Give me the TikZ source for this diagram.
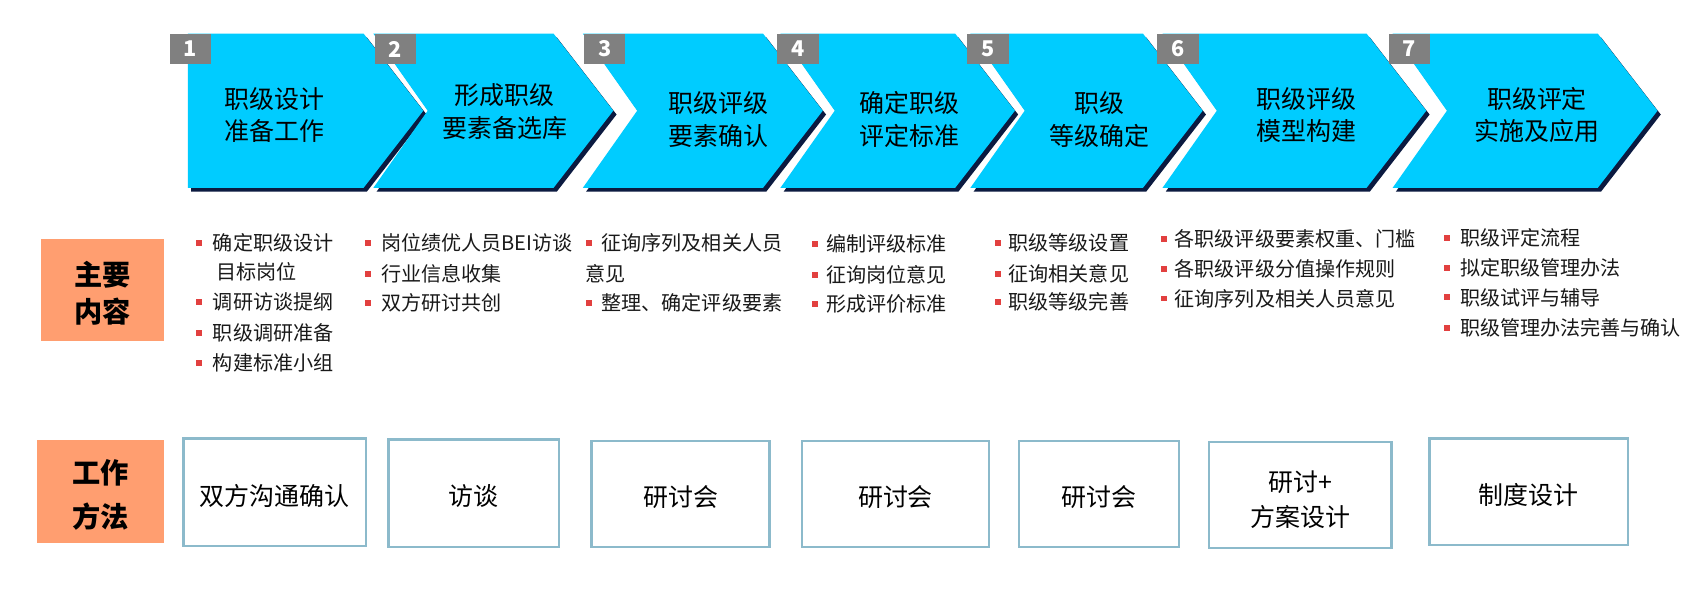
\documentclass[tikz,border=0pt]{standalone}
\usepackage{fontspec}
\setmainfont{Noto Sans CJK SC}
\definecolor{chev}{HTML}{00CCFF}
\definecolor{chevshadow}{HTML}{0B1A40}
\definecolor{numgray}{HTML}{808080}
\definecolor{labelfill}{HTML}{FF9E70}
\definecolor{boxline}{HTML}{8CBACB}
\definecolor{bulletred}{HTML}{E2403F}
\tikzset{
  chevtext/.style={align=center, font=\fontsize{23}{30}\selectfont, text=black, inner sep=0pt},
  numbox/.style={fill=numgray, text=white, font=\fontsize{20}{20}\selectfont\bfseries, minimum width=38pt, minimum height=28pt, inner sep=0pt, anchor=north west},
  rowlabel/.style={fill=labelfill, font=\fontsize{26}{34}\selectfont\bfseries, align=center, inner sep=0pt},
  methodbox/.style={draw=boxline, line width=2.2pt, fill=white},
  methodtext/.style={font=\fontsize{23}{32}\selectfont, align=center, inner sep=0pt},
  itemtext/.style={font=\fontsize{18.5}{20}\selectfont, anchor=west, inner sep=0pt, text=black!90},
  bul/.style={fill=bulletred, minimum size=5.5pt, inner sep=0pt}
}
\begin{document}
\begin{tikzpicture}[x=1pt,y=-1pt]
\useasboundingbox[fill=white] (0,0) rectangle (1568,558);

% ---- chevrons ----
\fill[chevshadow, shift={(3,3.5)}] (173,31) -- (335,31) -- (390,102) -- (335,173) -- (173,173) -- cycle;
\fill[chev] (173,31) -- (335,31) -- (390,102) -- (335,173) -- (173,173) -- cycle;
\foreach \L/\R/\T in {344/510/565, 537/703/758, 719/880/935, 894/1053/1108, 1071/1259/1314, 1283/1472/1527}{
  \fill[chevshadow, shift={(3,3.5)}] (\L,31) -- (\R,31) -- (\T,102) -- (\R,173) -- (\L,173) -- ({\L+50},102) -- cycle;
  \fill[chev] (\L,31) -- (\R,31) -- (\T,102) -- (\R,173) -- (\L,173) -- ({\L+50},102) -- cycle;
}

% ---- number squares ----
\node[numbox] (n1) at (156,31) {1};
\node[numbox] (n2) at (345,31) {2};
\node[numbox] (n3) at (538,31) {3};
\node[numbox] (n4) at (716,31) {4};
\node[numbox] (n5) at (891,31) {5};
\node[numbox] (n6) at (1066,31) {6};
\node[numbox] (n7) at (1279,31) {7};

% ---- chevron texts ----
\node[chevtext] (c1) at (253,106) {职级设计\\准备工作};
\node[chevtext] (c2) at (465,103) {形成职级\\要素备选库};
\node[chevtext] (c3) at (662,110) {职级评级\\要素确认};
\node[chevtext] (c4) at (838,110) {确定职级\\评定标准};
\node[chevtext] (c5) at (1013,110) {职级\\等级确定};
\node[chevtext] (c6) at (1204,106) {职级评级\\模型构建};
\node[chevtext] (c7) at (1416,106) {职级评定\\实施及应用};

% ---- row labels ----
\fill[labelfill] (38,220) rectangle (151,314);
\node[rowlabel, font=\fontsize{26}{34}\selectfont\bfseries] (lab1) at (94.5,270) {主要\\内容};
\fill[labelfill] (34,405) rectangle (151,500);
\node[rowlabel, font=\fontsize{26}{40}\selectfont\bfseries] (lab2) at (92.5,456) {工作\\方法};

% ---- bullet items ----
\foreach \bx/\tx/\yy/\txt in {
  183/196/224/确定职级设计, 183/196/278/调研访谈提纲, 183/196/307/职级调研准备, 183/196/334/构建标准小组,
  339/351/224/岗位绩优人员BEI访谈, 339/351/252/行业信息收集, 339/351/279/双方研讨共创,
  543/554/224/征询序列及相关人员, 543/554/279/整理、确定评级要素,
  751/761/225/编制评级标准, 751/761/253/征询岗位意见, 751/761/280/形成评价标准,
  919/929/224/职级等级设置, 919/929/252/征询相关意见, 919/929/278/职级等级完善,
  1072/1082/220/各职级评级要素权重、门槛, 1072/1082/248/各职级评级分值操作规则, 1072/1082/275/征询序列及相关人员意见,
  1333/1345/219/职级评定流程, 1333/1345/247/拟定职级管理办法, 1333/1345/274/职级试评与辅导, 1333/1345/302/职级管理办法完善与确认}{
  \node[bul] at (\bx,\yy) {};
  \node[itemtext] at (\tx,\yy) {\txt};
}
\node[itemtext] (w1) at (199,250) {目标岗位};
\node[itemtext] (w3) at (539,252) {意见};

% ---- method boxes ----
\draw[methodbox] (169,404) rectangle (337,503);
\node[methodtext] (m1) at (253,457) {双方沟通确认};
\draw[methodbox] (358,405) rectangle (515,504);
\node[methodtext] (m2) at (436.5,457) {访谈};
\draw[methodbox] (545,406) rectangle (709,504);
\node[methodtext] (m3) at (627,458) {研讨会};
\draw[methodbox] (739,406) rectangle (911,504);
\node[methodtext] (m4) at (825,458) {研讨会};
\draw[methodbox] (939,406) rectangle (1086,504);
\node[methodtext] (m5) at (1012.5,458) {研讨会};
\draw[methodbox] (1114,407) rectangle (1282,505);
\node[methodtext] (m6) at (1198,460) {研讨+\\方案设计};
\draw[methodbox] (1317,404) rectangle (1500,502);
\node[methodtext] (m7) at (1408.5,456) {制度设计};
\end{tikzpicture}
\end{document}
